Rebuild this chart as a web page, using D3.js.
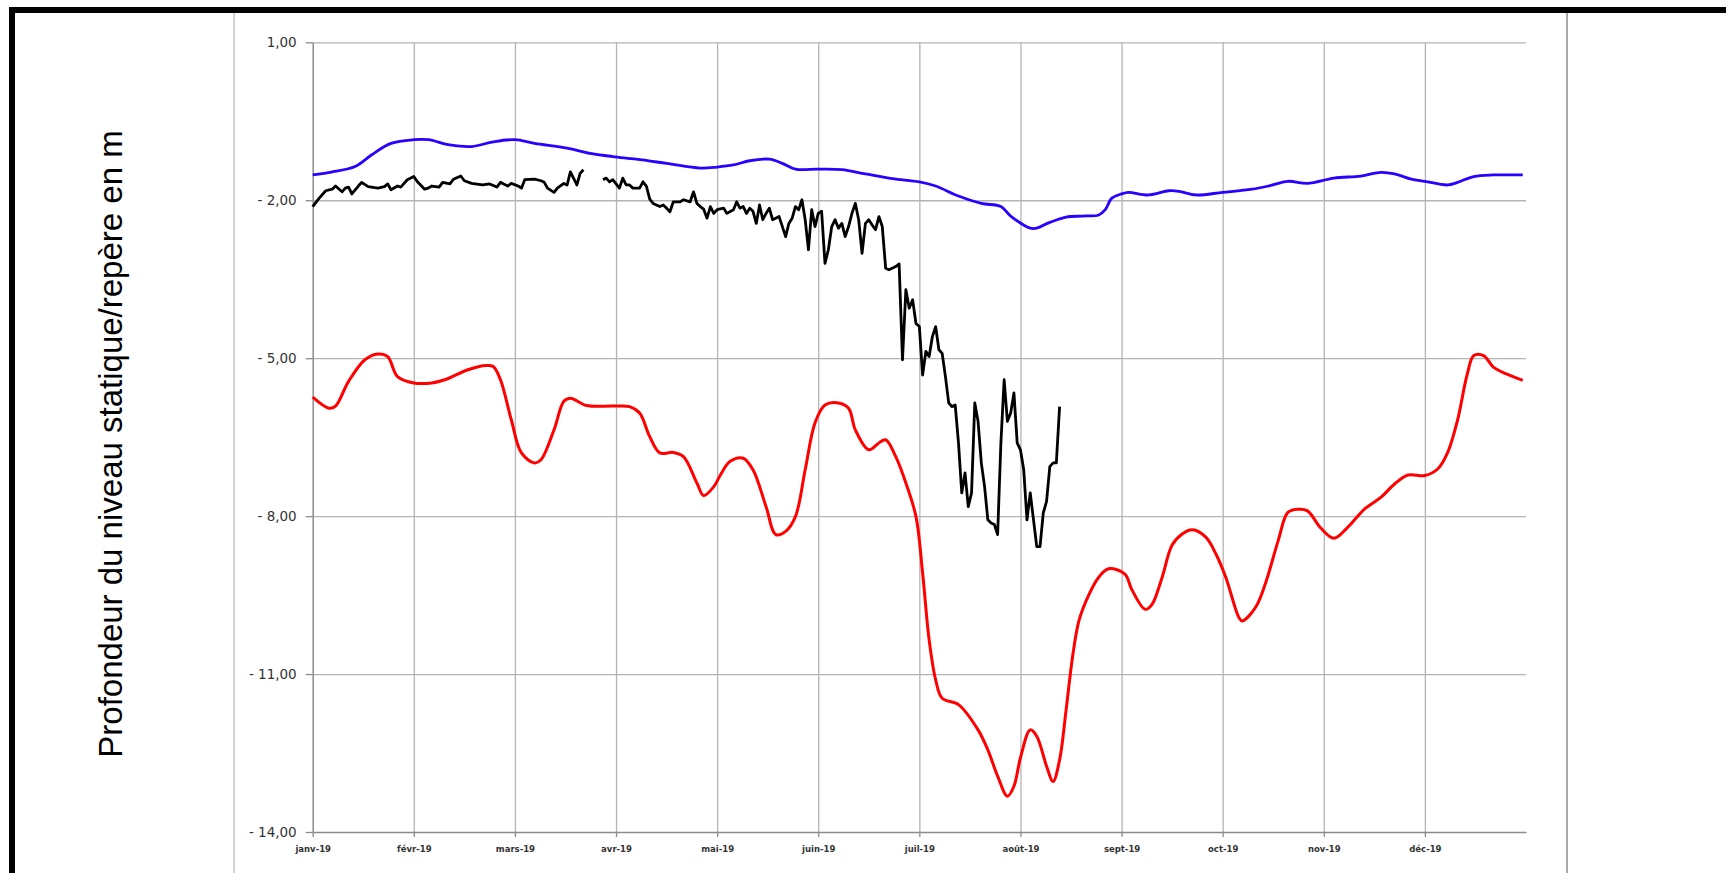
<!DOCTYPE html>
<html lang="fr">
<head>
<meta charset="UTF-8" />
<title>Profondeur du niveau statique 2019</title>
<script src="https://d3js.org/d3.v7.min.js"></script>
<style>
  body { margin: 0; background: #fff; }
  svg { display: block; }
</style>
</head>
<body>
<div id="chart"></div>
<script>
// Month labels of the x axis
var monthLabels = ["janv-19", "févr-19", "mars-19", "avr-19", "mai-19", "juin-19",
                   "juil-19", "août-19", "sept-19", "oct-19", "nov-19", "déc-19"];

// Y tick values (m)
var yTicks = [1, -2, -5, -8, -11, -14];

// Upper envelope (blue) - [month-day, depth]
var blueSeries = [
  ["01-01", -1.52], ["01-07", -1.46], ["01-14", -1.36], ["01-19", -1.14], ["01-25", -0.92],
  ["02-01", -0.85], ["02-05", -0.85], ["02-11", -0.95], ["02-17", -0.98], ["02-23", -0.89],
  ["03-01", -0.85], ["03-07", -0.92], ["03-17", -1.01], ["03-24", -1.11], ["03-31", -1.17],
  ["04-07", -1.22], ["04-16", -1.30], ["04-26", -1.39], ["05-01", -1.37], ["05-06", -1.33],
  ["05-11", -1.25], ["05-17", -1.22], ["05-21", -1.30], ["05-25", -1.41], ["06-01", -1.41],
  ["06-08", -1.42], ["06-15", -1.50], ["06-23", -1.59], ["07-01", -1.65], ["07-06", -1.73],
  ["07-13", -1.92], ["07-20", -2.06], ["07-26", -2.12], ["07-29", -2.30], ["08-04", -2.53],
  ["08-06", -2.53], ["08-10", -2.42], ["08-15", -2.32], ["08-20", -2.30], ["08-25", -2.28],
  ["08-27", -2.18], ["08-29", -1.96], ["09-01", -1.88], ["09-03", -1.85], ["09-09", -1.90],
  ["09-15", -1.82], ["09-18", -1.83], ["09-23", -1.90], ["10-01", -1.85], ["10-10", -1.79],
  ["10-15", -1.73], ["10-21", -1.64], ["10-27", -1.68], ["11-04", -1.58], ["11-12", -1.54],
  ["11-18", -1.47], ["11-22", -1.50], ["11-27", -1.60], ["12-01", -1.64], ["12-08", -1.71],
  ["12-11", -1.66], ["12-16", -1.55], ["12-22", -1.52], ["12-31", -1.52]
];

// Lower envelope (red)
var redSeries = [
  ["01-01", -5.74], ["01-06", -5.95], ["01-08", -5.91], ["01-12", -5.44], ["01-17", -5.03],
  ["01-21", -4.92], ["01-24", -4.97], ["01-27", -5.35], ["02-01", -5.47], ["02-06", -5.47],
  ["02-10", -5.40], ["02-16", -5.22], ["02-21", -5.14], ["02-23", -5.16], ["02-25", -5.41],
  ["02-28", -6.17], ["03-03", -6.80], ["03-07", -6.99], ["03-09", -6.93], ["03-13", -6.36],
  ["03-16", -5.82], ["03-18", -5.76], ["03-23", -5.90], ["03-31", -5.91], ["04-05", -5.92],
  ["04-08", -6.04], ["04-11", -6.49], ["04-14", -6.80], ["04-18", -6.79], ["04-21", -6.87],
  ["04-25", -7.37], ["04-27", -7.61], ["04-30", -7.44], ["05-02", -7.22], ["05-05", -6.96],
  ["05-09", -6.90], ["05-12", -7.12], ["05-16", -7.82], ["05-19", -8.35], ["05-22", -8.29],
  ["05-25", -8.01], ["05-28", -7.12], ["05-31", -6.23], ["06-03", -5.89], ["06-07", -5.85],
  ["06-10", -5.95], ["06-12", -6.36], ["06-16", -6.74], ["06-19", -6.61], ["06-21", -6.55],
  ["06-24", -6.87], ["06-27", -7.37], ["06-30", -8.01], ["07-02", -9.08], ["07-04", -10.35],
  ["07-06", -11.11], ["07-08", -11.46], ["07-13", -11.58], ["07-19", -12.06], ["07-22", -12.44],
  ["07-25", -12.94], ["07-28", -13.32], ["07-30", -13.13], ["08-01", -12.59], ["08-04", -12.06],
  ["08-06", -12.18], ["08-09", -12.75], ["08-11", -13.04], ["08-13", -12.63], ["08-15", -11.68],
  ["08-17", -10.66], ["08-19", -9.97], ["08-22", -9.49], ["08-25", -9.16], ["08-28", -9.00],
  ["09-02", -9.10], ["09-04", -9.39], ["09-08", -9.77], ["09-10", -9.68], ["09-13", -9.17],
  ["09-16", -8.55], ["09-19", -8.34], ["09-22", -8.26], ["09-26", -8.40], ["09-29", -8.72],
  ["10-02", -9.17], ["10-06", -9.93], ["10-07", -9.99], ["10-11", -9.74], ["10-14", -9.30],
  ["10-18", -8.47], ["10-21", -7.93], ["10-24", -7.87], ["10-27", -7.90], ["10-31", -8.22],
  ["11-04", -8.42], ["11-08", -8.22], ["11-13", -7.87], ["11-18", -7.64], ["11-22", -7.39],
  ["11-26", -7.22], ["12-01", -7.23], ["12-05", -7.10], ["12-08", -6.79], ["12-11", -6.18],
  ["12-14", -5.30], ["12-16", -4.95], ["12-19", -4.95], ["12-22", -5.17], ["12-26", -5.30],
  ["12-31", -5.42]
];

// 2019 measurements (black), null = no reading
var blackSeries = [
  ["01-01", -2.12], ["01-03", -1.96], ["01-05", -1.82], ["01-07", -1.79], ["01-08", -1.73],
  ["01-10", -1.84], ["01-11", -1.77], ["01-12", -1.75], ["01-13", -1.88], ["01-15", -1.73],
  ["01-16", -1.66], ["01-18", -1.74], ["01-19", -1.75], ["01-21", -1.77], ["01-23", -1.74],
  ["01-24", -1.69], ["01-25", -1.80], ["01-27", -1.73], ["01-28", -1.75], ["01-30", -1.61],
  ["02-01", -1.55], ["02-02", -1.65], ["02-04", -1.79], ["02-05", -1.77], ["02-06", -1.73],
  ["02-08", -1.75], ["02-09", -1.66], ["02-11", -1.69], ["02-12", -1.60], ["02-14", -1.54],
  ["02-15", -1.63], ["02-17", -1.68], ["02-18", -1.69], ["02-20", -1.71], ["02-22", -1.69],
  ["02-24", -1.75], ["02-25", -1.66], ["02-27", -1.73], ["02-28", -1.68], ["03-02", -1.73],
  ["03-03", -1.77], ["03-04", -1.61], ["03-07", -1.60], ["03-09", -1.63], ["03-10", -1.66],
  ["03-11", -1.77], ["03-13", -1.85], ["03-14", -1.77], ["03-16", -1.68], ["03-17", -1.71],
  ["03-18", -1.46], ["03-20", -1.71], ["03-21", -1.49], ["03-22", -1.42], ["03-25", null],
  ["03-28", -1.61], ["03-29", -1.58], ["03-30", -1.65], ["03-31", -1.61], ["04-02", -1.77],
  ["04-03", -1.58], ["04-04", -1.71], ["04-05", -1.71], ["04-06", -1.77], ["04-08", -1.77],
  ["04-09", -1.65], ["04-10", -1.73], ["04-11", -1.98], ["04-12", -2.06], ["04-14", -2.12],
  ["04-15", -2.09], ["04-16", -2.15], ["04-17", -2.22], ["04-18", -2.03], ["04-20", -2.03],
  ["04-21", -1.99], ["04-23", -2.03], ["04-24", -1.84], ["04-25", -2.06], ["04-26", -2.12],
  ["04-27", -2.17], ["04-28", -2.34], ["04-29", -2.12], ["04-30", -2.25], ["05-01", -2.18],
  ["05-03", -2.15], ["05-04", -2.25], ["05-06", -2.18], ["05-07", -2.03], ["05-08", -2.15],
  ["05-09", -2.12], ["05-10", -2.25], ["05-11", -2.15], ["05-12", -2.21], ["05-13", -2.44],
  ["05-14", -2.09], ["05-15", -2.37], ["05-16", -2.25], ["05-17", -2.15], ["05-18", -2.37],
  ["05-20", -2.31], ["05-21", -2.50], ["05-22", -2.69], ["05-23", -2.44], ["05-24", -2.34],
  ["05-25", -2.12], ["05-26", -2.18], ["05-27", -1.99], ["05-28", -2.37], ["05-29", -2.94],
  ["05-30", -2.18], ["05-31", -2.50], ["06-01", -2.25], ["06-02", -2.21], ["06-03", -3.20],
  ["06-04", -2.94], ["06-05", -2.50], ["06-06", -2.37], ["06-07", -2.53], ["06-08", -2.44],
  ["06-09", -2.69], ["06-10", -2.50], ["06-11", -2.25], ["06-12", -2.06], ["06-13", -2.37],
  ["06-14", -3.01], ["06-15", -2.44], ["06-16", -2.37], ["06-17", -2.47], ["06-18", -2.56],
  ["06-19", -2.31], ["06-20", -2.50], ["06-21", -3.29], ["06-22", -3.32], ["06-24", -3.26],
  ["06-25", -3.21], ["06-26", -5.03], ["06-27", -3.70], ["06-28", -4.05], ["06-29", -3.89],
  ["06-30", -4.34], ["07-01", -4.40], ["07-02", -5.32], ["07-03", -4.87], ["07-04", -4.97],
  ["07-05", -4.59], ["07-06", -4.40], ["07-07", -4.84], ["07-08", -4.91], ["07-09", -5.35],
  ["07-10", -5.85], ["07-11", -5.92], ["07-12", -5.89], ["07-13", -6.61], ["07-14", -7.56],
  ["07-15", -7.18], ["07-16", -7.82], ["07-17", -7.56], ["07-18", -5.85], ["07-19", -6.20],
  ["07-20", -6.99], ["07-21", -7.44], ["07-22", -8.07], ["07-23", -8.13], ["07-24", -8.16],
  ["07-25", -8.35], ["07-26", -6.61], ["07-27", -5.41], ["07-28", -6.20], ["07-29", -6.04],
  ["07-30", -5.66], ["07-31", -6.61], ["08-01", -6.74], ["08-02", -7.12], ["08-03", -8.07],
  ["08-04", -7.56], ["08-05", -8.07], ["08-06", -8.58], ["08-07", -8.58], ["08-08", -7.94],
  ["08-09", -7.72], ["08-10", -7.06], ["08-11", -6.99], ["08-12", -6.99], ["08-13", -5.92]
];

var w = 1726;
var h = 873;
var plotLeft = 312.7, plotRight = 1526, plotTop = 42.3, plotBottom = 832;

var parseDay = d3.timeParse("%Y-%m-%d");
function toPoints(series) {
    return series.map(function(d) { return { date: parseDay("2019-" + d[0]), v: d[1] }; });
}

var svg = d3.select("#chart")
    .append("svg")
    .attr("width", w)
    .attr("height", h);

svg.append("rect").attr("width", w).attr("height", h).attr("fill", "#fff");

// Frame of the page
svg.append("line").attr("x1", 234).attr("x2", 234).attr("y1", 13).attr("y2", h)
    .attr("stroke", "#b4b4b4").attr("stroke-width", 1.2);
svg.append("line").attr("x1", 1567).attr("x2", 1567).attr("y1", 13).attr("y2", h)
    .attr("stroke", "#8c8c8c").attr("stroke-width", 1.5);
svg.append("rect").attr("x", 9).attr("y", 7).attr("width", w - 9).attr("height", 6).attr("fill", "#000");
svg.append("rect").attr("x", 9).attr("y", 7).attr("width", 6).attr("height", h - 7).attr("fill", "#000");

// Month ticks are equally spaced (one slot per month)
var monthStarts = d3.timeMonth.range(new Date(2019, 0, 1), new Date(2020, 0, 2));
var x = d3.scaleTime()
    .domain(monthStarts)
    .range(monthStarts.map(function(d, i) { return plotLeft + i * (plotRight - plotLeft) / 12; }));

var y = d3.scaleLinear()
    .domain([-14, 1])
    .range([plotBottom, plotTop]);

// Grid lines
svg.append("g")
    .attr("transform", "translate(0," + plotBottom + ")")
    .call(d3.axisBottom(x).tickValues(monthStarts.slice(1, 12)).tickSize(-(plotBottom - plotTop)).tickFormat(""))
    .call(function(g) {
        g.select(".domain").remove();
        g.selectAll("line").attr("stroke", "#b4b4b4").attr("stroke-width", 1.3);
    });

svg.append("g")
    .attr("transform", "translate(" + plotLeft + ",0)")
    .call(d3.axisLeft(y).tickValues(yTicks.slice(0, 5)).tickSize(-(plotRight - plotLeft)).tickFormat(""))
    .call(function(g) {
        g.select(".domain").remove();
        g.selectAll("line").attr("stroke", "#b4b4b4").attr("stroke-width", 1.3);
    });

// Axes
function frNumber(d) {
    var s = d3.format(".2f")(Math.abs(d)).replace(".", ",");
    return d < 0 ? "- " + s : s;
}

svg.append("g")
    .attr("transform", "translate(" + plotLeft + ",0)")
    .call(d3.axisLeft(y).tickValues(yTicks).tickSize(7).tickSizeOuter(0).tickPadding(9).tickFormat(frNumber))
    .call(function(g) {
        g.select(".domain").attr("stroke", "#8c8c8c").attr("stroke-width", 1.5);
        g.selectAll("line").attr("stroke", "#8c8c8c").attr("stroke-width", 1.3);
        g.selectAll("text")
            .attr("fill", "#333")
            .style("font-family", "'DejaVu Sans', sans-serif")
            .style("font-size", "13.5px");
    });

svg.append("g")
    .attr("transform", "translate(0," + plotBottom + ")")
    .call(d3.axisBottom(x).tickValues(monthStarts.slice(0, 12)).tickSize(5).tickSizeOuter(0).tickPadding(9)
        .tickFormat(function(d, i) { return monthLabels[i]; }))
    .call(function(g) {
        g.select(".domain").attr("stroke", "#8c8c8c").attr("stroke-width", 1.5);
        g.selectAll("line").attr("stroke", "#8c8c8c").attr("stroke-width", 1.3);
        g.selectAll("text")
            .attr("fill", "#333")
            .style("font-family", "'DejaVu Sans', sans-serif")
            .style("font-weight", "bold")
            .style("font-size", "8.5px");
    });

// Lines
var smooth = d3.line()
    .x(function(d) { return x(d.date); })
    .y(function(d) { return y(d.v); })
    .curve(d3.curveCatmullRom.alpha(0.5));

var straight = d3.line()
    .defined(function(d) { return d.v !== null; })
    .x(function(d) { return x(d.date); })
    .y(function(d) { return y(d.v); });

svg.append("path")
    .datum(toPoints(blueSeries))
    .attr("d", smooth)
    .attr("fill", "none")
    .attr("stroke", "#2a00ff")
    .attr("stroke-width", 2.8)
    .attr("stroke-linejoin", "round");

svg.append("path")
    .datum(toPoints(redSeries))
    .attr("d", smooth)
    .attr("fill", "none")
    .attr("stroke", "#ff0000")
    .attr("stroke-width", 3)
    .attr("stroke-linejoin", "round");

svg.append("path")
    .datum(toPoints(blackSeries))
    .attr("d", straight)
    .attr("fill", "none")
    .attr("stroke", "#000")
    .attr("stroke-width", 2.8)
    .attr("stroke-linejoin", "round");

// Y axis title
svg.append("text")
    .attr("transform", "translate(122,444) rotate(-90)")
    .attr("text-anchor", "middle")
    .attr("fill", "#000")
    .style("font-family", "'Liberation Sans', Arial, sans-serif")
    .style("font-size", "33px")
    .text("Profondeur du niveau statique/repère en m");
</script>
</body>
</html>
